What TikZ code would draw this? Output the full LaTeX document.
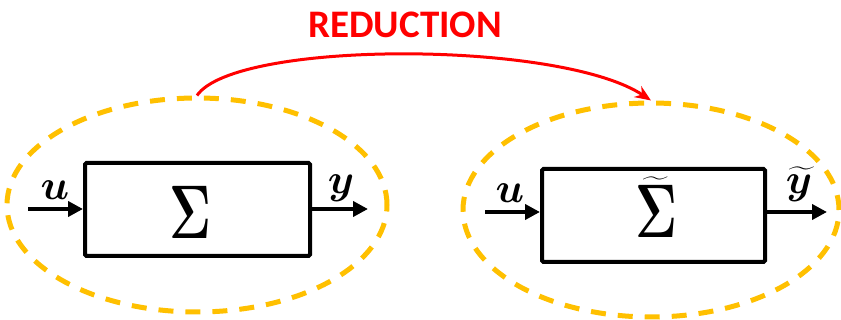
\RequirePackage{fix-cm}
\documentclass[tikz,border=0pt]{standalone}
\usepackage{fontspec}
\usepackage{amsmath,bm}
\newfontfamily\redfont{Carlito}
\usetikzlibrary{shapes.geometric,arrows.meta}
\definecolor{gold}{HTML}{FFC000}
\definecolor{redarrow}{HTML}{FF0000}
\begin{document}
\begin{tikzpicture}[x=1pt,y=-1pt,
  group/.style={draw=gold,line width=5pt,dash pattern=on 15pt off 12pt,ellipse,inner sep=0pt},
  sysbox/.style={draw=black,line width=4pt,rounded corners=1.5pt,inner sep=0pt},
  sig/.style={arrows={-Triangle[length=15pt,width=15pt]},line width=4pt},
  lbl/.style={font=\fontsize{42}{46}\selectfont,inner sep=0pt},
  big/.style={font=\fontsize{76}{80}\selectfont,inner sep=0pt}]
\useasboundingbox (0,0) rectangle (841,320);
% groups
\node[group,minimum width=380pt,minimum height=214pt] (L) at (197,205) {};
\node[group,minimum width=376pt,minimum height=214pt] (R) at (651,210) {};
% boxes
\node[sysbox,minimum width=225pt,minimum height=93pt] (B1) at (197.5,209.5) {};
\node[sysbox,minimum width=223pt,minimum height=93pt] (B2) at (653.5,215.5) {};
\node[big] (S1) at (190,212) {\scalebox{0.68}[1]{$\bm{\Sigma}$}};
\node[big] (S2) at (656,207) {\scalebox{0.68}[1]{$\widetilde{\bm{\Sigma}}$}};
% arrows
\coordinate (i1) at (28,209);
\coordinate (o1) at (368,209);
\coordinate (i2) at (485,212);
\coordinate (o2) at (827,212);
\draw[sig] (i1) -- (B1.west |- i1);
\draw[sig] (B1.east |- o1) -- (o1);
\draw[sig] (i2) -- (B2.west |- i2);
\draw[sig] (B2.east |- o2) -- (o2);
\node[lbl] (u1) at (55,190) {$\bm{u}$};
\node[lbl] (y1) at (341,188) {$\bm{y}$};
\node[lbl] (u2) at (510,193) {$\bm{u}$};
\node[lbl] (y2) at (799,184) {$\widetilde{\bm{y}}$};
% reduction
\node[text=redarrow,font=\redfont\bfseries\fontsize{39}{42}\selectfont] (T) at (405,25) {REDUCTION};
\draw[redarrow,line width=3pt,arrows={-Stealth[length=16pt,width=13pt]}]
  (L.north) .. controls (235,40) and (560,40) .. (R.north);
\end{tikzpicture}
\end{document}
